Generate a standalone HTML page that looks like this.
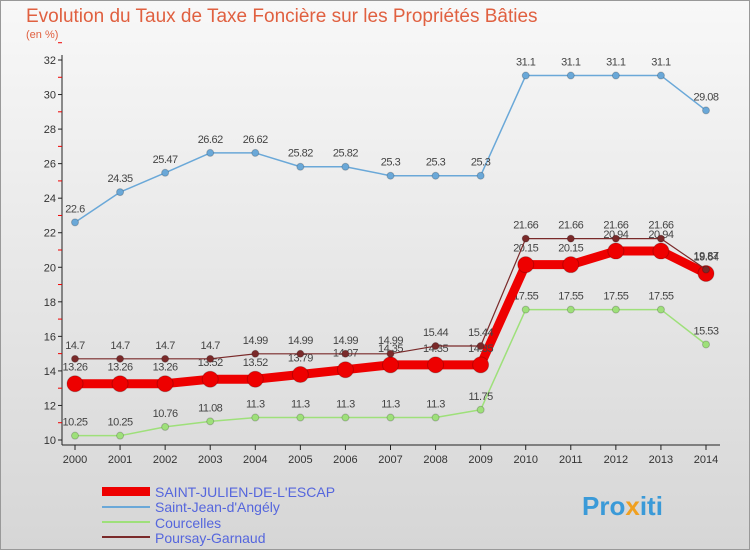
<!DOCTYPE html>
<html><head><meta charset="utf-8"><style>
body{margin:0;width:750px;height:550px;overflow:hidden;font-family:"Liberation Sans",sans-serif}
</style></head><body>
<svg width="750" height="550" xmlns="http://www.w3.org/2000/svg">
<defs><linearGradient id="bg" x1="0" y1="0" x2="0" y2="1"><stop offset="0" stop-color="#f8f8f8"/><stop offset="1" stop-color="#d6d6d6"/></linearGradient></defs>
<rect x="0.5" y="0.5" width="749" height="549" fill="url(#bg)" stroke="#999"/>
<text x="26" y="22" font-size="19" fill="#e06040">Evolution du Taux de Taxe Foncière sur les Propriétés Bâties</text>
<text x="26" y="38" font-size="11" fill="#e06040">(en %)</text>
<g id="axes"></g><g id="series"></g>
<g>
<rect x="102" y="487" width="48" height="9" fill="#e00"/>
<text x="155" y="497" font-size="14" fill="#5566dd">SAINT-JULIEN-DE-L'ESCAP</text>
<rect x="102" y="506" width="48" height="2" fill="#6aa8d8"/>
<text x="155" y="512" font-size="14" fill="#5566dd">Saint-Jean-d'Angély</text>
<rect x="102" y="521" width="48" height="2" fill="#9ee07a"/>
<text x="155" y="528" font-size="14" fill="#5566dd">Courcelles</text>
<rect x="102" y="536" width="48" height="2" fill="#7a2a2a"/>
<text x="155" y="543" font-size="14" fill="#5566dd">Poursay-Garnaud</text>
</g>
<text x="582" y="515" font-size="26" font-weight="bold" fill="#3a9ad8">Pro<tspan fill="#f0a020">x</tspan>iti</text>
</svg>
<script>
const years=[2000,2001,2002,2003,2004,2005,2006,2007,2008,2009,2010,2011,2012,2013,2014];
const yTicks=[10,12,14,16,18,20,22,24,26,28,30,32];
const stJulien=[13.26,13.26,13.26,13.52,13.52,13.79,14.07,14.35,14.35,14.35,20.15,20.15,20.94,20.94,19.64];
const stJean=[22.6,24.35,25.47,26.62,26.62,25.82,25.82,25.3,25.3,25.3,31.1,31.1,31.1,31.1,29.08];
const courcelles=[10.25,10.25,10.76,11.08,11.3,11.3,11.3,11.3,11.3,11.75,17.55,17.55,17.55,17.55,15.53];
const poursay=[14.7,14.7,14.7,14.7,14.99,14.99,14.99,14.99,15.44,15.44,21.66,21.66,21.66,21.66,19.87];
const NS="http://www.w3.org/2000/svg";
const X=i=>75+i*(706-75)/(years.length-1);
const Y=v=>440-(v-10)*(380/22);
function mk(tag,attrs,parent,txt){const e=document.createElementNS(NS,tag);for(const k in attrs)e.setAttribute(k,attrs[k]);if(txt!==undefined)e.textContent=txt;parent.appendChild(e);return e;}
const ax=document.getElementById('axes');
const yl=mk('line',{x1:62,y1:55,x2:62,y2:445,stroke:'#222'},ax);

const xl=mk('line',{x1:62,y1:445,x2:720,y2:445,stroke:'#222'},ax);

yTicks.forEach(t=>{
 mk('line',{x1:58,y1:Y(t),x2:62,y2:Y(t),stroke:'#222'},ax);
 mk('line',{x1:58,y1:Y(t+1),x2:62,y2:Y(t+1),stroke:'#e00'},ax);
 const tx=mk('text',{x:56,y:Y(t)+4,'font-size':11,'text-anchor':'end',fill:'#333'},ax,String(t));
 
});
years.forEach((yr,i)=>{
 mk('line',{x1:X(i),y1:445,x2:X(i),y2:450,stroke:'#222'},ax);
 const tx=mk('text',{x:X(i),y:463,'font-size':11,'text-anchor':'middle',fill:'#333'},ax,String(yr));
 
});
const sg=document.getElementById('series');
function series(vals,color,w,r,name){
 const g=mk('g',{},sg);
 
 
 mk('polyline',{points:vals.map((v,i)=>X(i)+','+Y(v)).join(' '),fill:'none',stroke:color,'stroke-width':w,'stroke-linejoin':'round'},g);
 vals.forEach((v,i)=>{
  const c=mk('circle',{cx:X(i),cy:Y(v),r:r,fill:color,stroke:'rgba(0,0,0,0.2)'},g);
  
  
  const t=mk('text',{x:X(i),y:Y(v)-10-(r>5?3:0),'font-size':11,'text-anchor':'middle',fill:'#444','letter-spacing':'-0.5'},g,String(v));
  
  
 });
}
series(stJean,'#6aa8d8',1.5,3.5,'saint-jean-series');
series(courcelles,'#9ee07a',1.5,3.5,'courcelles-series');
series(stJulien,'#e00',9,8,'saint-julien-series');
series(poursay,'#7a2a2a',1.2,3.5,'poursay-series');
</script>
</body></html>
